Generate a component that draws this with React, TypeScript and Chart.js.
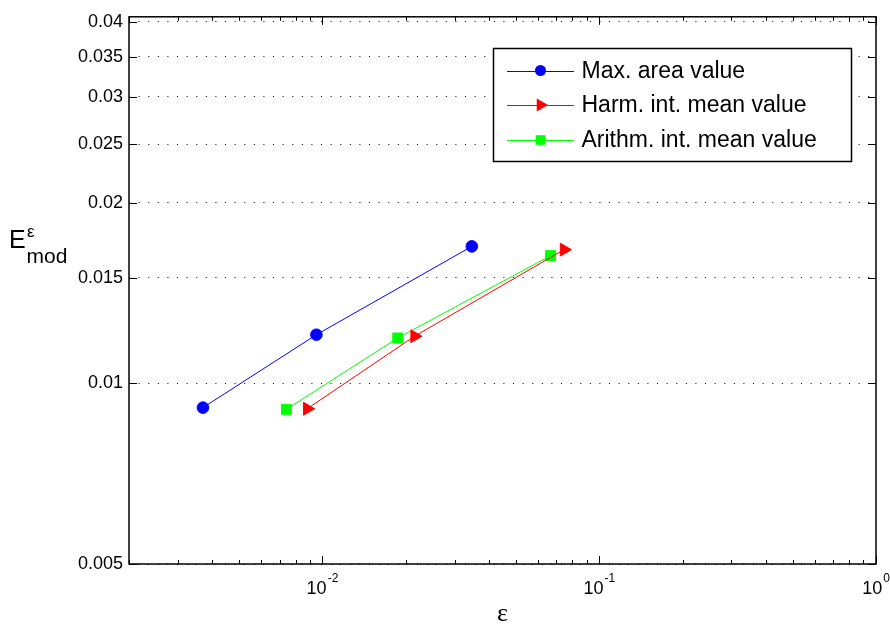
import React, { useEffect, useRef } from 'react';
import { Chart, registerables } from 'chart.js';

Chart.register(...registerables);

// ---- data ----
const SERIES_LABELS = ['Max. area value', 'Harm. int. mean value', 'Arithm. int. mean value'];
const SERIES_COLORS = ['#0000FF', '#FF0000', '#00FF00'];

const MAX_AREA_X = [0.0037, 0.00951, 0.03465];
const MAX_AREA_Y = [0.00911, 0.01205, 0.01691];

const HARM_X = [0.00881, 0.02152, 0.0746];
const HARM_Y = [0.00907, 0.01198, 0.0167];

const ARITH_X = [0.00741, 0.01871, 0.0667];
const ARITH_Y = [0.00905, 0.0119, 0.01632];

const X_MIN = 0.002;
const X_MAX = 1;
const Y_MIN = 0.005;
const Y_MAX = 0.0408;

const Y_TICKS = [0.005, 0.01, 0.015, 0.02, 0.025, 0.03, 0.035, 0.04];
const X_MAJOR_TICKS = [0.01, 0.1, 1];
const X_TICK_BASE = '10';
const X_TICK_EXPONENTS = ['-2', '-1', '0'];
const X_MINOR_TICKS = [
  0.002, 0.003, 0.004, 0.005, 0.006, 0.007, 0.008, 0.009,
  0.02, 0.03, 0.04, 0.05, 0.06, 0.07, 0.08, 0.09,
  0.2, 0.3, 0.4, 0.5, 0.6, 0.7, 0.8, 0.9,
];

const X_TITLE = 'ε';
const Y_TITLE_MAIN = 'E';
const Y_TITLE_SUP = 'ε';
const Y_TITLE_SUB = 'mod';

const SANS = '"Liberation Sans", Arial, Helvetica, sans-serif';
const SERIF = '"Liberation Serif", "Times New Roman", serif';

function drawMarker(ctx: CanvasRenderingContext2D, kind: string, x: number, y: number, r: number, color: string) {
  ctx.save();
  ctx.fillStyle = color;
  ctx.beginPath();
  if (kind === 'circle') {
    ctx.arc(x, y, r, 0, Math.PI * 2);
  } else if (kind === 'triangle') {
    ctx.moveTo(x + r, y);
    ctx.lineTo(x - r / 2, y - r * 0.866);
    ctx.lineTo(x - r / 2, y + r * 0.866);
    ctx.closePath();
  } else {
    ctx.rect(x - r, y - r, 2 * r, 2 * r);
  }
  ctx.fill();
  ctx.restore();
}

const framePlugin = {
  id: 'matlabFrame',
  afterDatasetsDraw(chart: any) {
    const ctx: CanvasRenderingContext2D = chart.ctx;
    const { left, right, top, bottom } = chart.chartArea;
    const xs = chart.scales.x;
    const ys = chart.scales.y;
    ctx.save();
    ctx.strokeStyle = '#000';
    ctx.lineWidth = 1;
    // ticks
    ctx.beginPath();
    X_MINOR_TICKS.forEach((v) => {
      const px = Math.round(xs.getPixelForValue(v)) + 0.5;
      ctx.moveTo(px, bottom); ctx.lineTo(px, bottom - 4);
      ctx.moveTo(px, top); ctx.lineTo(px, top + 4);
    });
    X_MAJOR_TICKS.forEach((v) => {
      const px = Math.round(xs.getPixelForValue(v)) + 0.5;
      ctx.moveTo(px, bottom); ctx.lineTo(px, bottom - 8);
      ctx.moveTo(px, top); ctx.lineTo(px, top + 8);
    });
    Y_TICKS.forEach((v) => {
      const py = Math.round(ys.getPixelForValue(v)) + 0.5;
      ctx.moveTo(left, py); ctx.lineTo(left + 8, py);
      ctx.moveTo(right, py); ctx.lineTo(right - 8, py);
    });
    ctx.stroke();
    // box
    ctx.lineWidth = 1.5;
    ctx.strokeRect(left, top, right - left, bottom - top);
    ctx.restore();

    // x tick labels with superscripts
    const baseFont = '18px ' + SANS;
    const expFont = '12px ' + SANS;
    ctx.save();
    ctx.fillStyle = '#000';
    ctx.textAlign = 'left';
    ctx.textBaseline = 'alphabetic';
    X_MAJOR_TICKS.forEach((v, i) => {
      const px = xs.getPixelForValue(v);
      const exp = X_TICK_EXPONENTS[i];
      ctx.font = baseFont;
      const wb = ctx.measureText(X_TICK_BASE).width;
      ctx.font = expFont;
      const we = ctx.measureText(exp).width;
      const start = px - (wb + 1 + we) / 2;
      ctx.font = baseFont;
      ctx.fillText(X_TICK_BASE, start, bottom + 30);
      ctx.font = expFont;
      ctx.fillText(exp, start + wb + 1, bottom + 18);
    });

    // x title
    ctx.font = '26px ' + SERIF;
    ctx.textAlign = 'center';
    ctx.fillText(X_TITLE, (left + right) / 2, 621);

    // y title
    ctx.textAlign = 'left';
    ctx.font = '25px ' + SANS;
    ctx.fillText(Y_TITLE_MAIN, 9, 248);
    ctx.font = '17px ' + SANS;
    ctx.fillText(Y_TITLE_SUP, 27, 236.5);
    ctx.font = '21px ' + SANS;
    ctx.fillText(Y_TITLE_SUB, 26.5, 263);
    ctx.restore();

    // legend
    ctx.save();
    const bx = 493.5, by = 48.5, bw = 358, bh = 113;
    ctx.fillStyle = '#fff';
    ctx.fillRect(bx, by, bw, bh);
    ctx.strokeStyle = '#000';
    ctx.lineWidth = 1.5;
    ctx.strokeRect(bx, by, bw, bh);
    const rows = [70.5, 105, 140];
    const kinds = ['circle', 'triangle', 'rect'];
    const sizes = [5.5, 7.5, 4.8];
    SERIES_LABELS.forEach((label, i) => {
      const y = rows[i];
      ctx.strokeStyle = SERIES_COLORS[i];
      ctx.lineWidth = 1;
      ctx.beginPath();
      ctx.moveTo(507, Math.round(y) + 0.5);
      ctx.lineTo(574, Math.round(y) + 0.5);
      ctx.stroke();
      drawMarker(ctx, kinds[i], 540.5, y, sizes[i], SERIES_COLORS[i]);
      ctx.fillStyle = '#000';
      ctx.font = '23px ' + SANS;
      ctx.textAlign = 'left';
      ctx.textBaseline = 'middle';
      ctx.fillText(label, 581.5, y + 1);
    });
    ctx.restore();
  },
};

export default function App() {
  const ref = useRef<HTMLCanvasElement>(null);

  useEffect(() => {
    const canvas = ref.current;
    if (!canvas) return;
    const mk = (xs: number[], ys: number[]) => xs.map((x, i) => ({ x, y: ys[i] }));
    const chart = new Chart(canvas, {
      type: 'line',
      data: {
        datasets: [
          {
            label: SERIES_LABELS[0],
            data: mk(MAX_AREA_X, MAX_AREA_Y),
            borderColor: SERIES_COLORS[0],
            backgroundColor: SERIES_COLORS[0],
            borderWidth: 1,
            pointStyle: 'circle',
            pointRadius: 5.8,
            pointBorderWidth: 1,
          },
          {
            label: SERIES_LABELS[1],
            data: mk(HARM_X, HARM_Y),
            borderColor: SERIES_COLORS[1],
            backgroundColor: SERIES_COLORS[1],
            borderWidth: 1,
            pointStyle: 'triangle',
            pointRotation: 90,
            pointRadius: 7.4,
            pointBorderWidth: 1,
          },
          {
            label: SERIES_LABELS[2],
            data: mk(ARITH_X, ARITH_Y),
            borderColor: SERIES_COLORS[2],
            backgroundColor: SERIES_COLORS[2],
            borderWidth: 1,
            pointStyle: 'rect',
            pointRadius: 7,
            pointBorderWidth: 1,
          },
        ],
      },
      options: {
        animation: false,
        responsive: false,
        devicePixelRatio: 1,
        layout: { padding: { left: 0, top: 10, right: 14, bottom: 0 } },
        plugins: {
          legend: { display: false },
          tooltip: { enabled: false },
        },
        scales: {
          x: {
            type: 'logarithmic',
            min: X_MIN,
            max: X_MAX,
            bounds: 'data',
            grid: { display: false },
            border: { display: false },
            ticks: { display: false },
            afterBuildTicks: (scale: any) => {
              scale.ticks = X_MAJOR_TICKS.map((v) => ({ value: v }));
            },
            afterFit: (scale: any) => {
              scale.height = 61;
            },
          },
          y: {
            type: 'logarithmic',
            min: Y_MIN,
            max: Y_MAX,
            bounds: 'data',
            grid: {
              display: true,
              drawOnChartArea: true,
              drawTicks: false,
              color: '#000',
              lineWidth: 1,
            },
            border: { display: false, dash: [1, 8.6] },
            ticks: {
              padding: 6,
              color: '#000',
              font: { family: SANS, size: 18 },
              callback: (v: any) => String(v),
            },
            afterBuildTicks: (scale: any) => {
              scale.ticks = Y_TICKS.map((v) => ({ value: v }));
            },
            afterFit: (scale: any) => {
              scale.width = 129;
            },
          },
        },
      },
      plugins: [framePlugin],
    } as any);
    return () => chart.destroy();
  }, []);

  return (
    <div style={{ position: 'absolute', left: 0, top: 0, width: 890, height: 625, background: '#fff' }}>
      <canvas ref={ref} width={890} height={625} style={{ display: 'block', width: 890, height: 625 }} />
    </div>
  );
}
